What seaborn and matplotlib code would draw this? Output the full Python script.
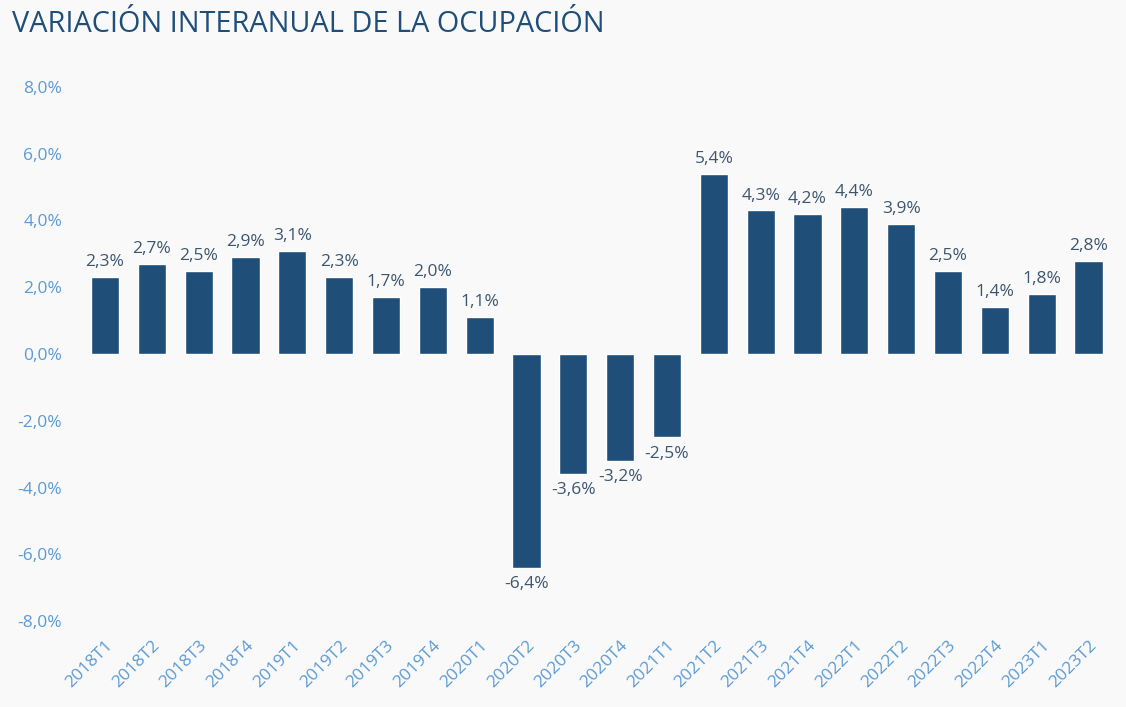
import pandas as pd
import seaborn as sns
import matplotlib.pyplot as plt

periods = ["2018T1", "2018T2", "2018T3", "2018T4", "2019T1", "2019T2", "2019T3", "2019T4",
           "2020T1", "2020T2", "2020T3", "2020T4", "2021T1", "2021T2", "2021T3", "2021T4",
           "2022T1", "2022T2", "2022T3", "2022T4", "2023T1", "2023T2"]
variation = [2.3, 2.7, 2.5, 2.9, 3.1, 2.3, 1.7, 2.0,
             1.1, -6.4, -3.6, -3.2, -2.5, 5.4, 4.3, 4.2,
             4.4, 3.9, 2.5, 1.4, 1.8, 2.8]
y_ticks = [-8, -6, -4, -2, 0, 2, 4, 6, 8]

bg = "#f9f9f9"
bar_color = "#1f4e79"
tick_color = "#5b9bd5"
label_color = "#3d5670"

sns.set_style("white")
plt.rcParams['font.family'] = ['Open Sans', 'DejaVu Sans']

df = pd.DataFrame({"periodo": periods, "var": variation})

fig = plt.figure(figsize=(11.26, 7.07), dpi=100, facecolor=bg)
ax = fig.add_axes([0.0725, 0.1216, 0.915, 0.7554])
ax.set_facecolor(bg)

sns.barplot(data=df, x="periodo", y="var", color=bar_color, saturation=1, width=0.6, ax=ax)

for i, v in enumerate(variation):
    txt = f"{v:.1f}%".replace(".", ",")
    if v >= 0:
        ax.annotate(txt, (i, v), xytext=(0, 5), textcoords="offset points",
                    ha="center", va="bottom", fontsize=12.5, color=label_color)
    else:
        ax.annotate(txt, (i, v), xytext=(0, -6), textcoords="offset points",
                    ha="center", va="top", fontsize=12.5, color=label_color)

ax.set_xlim(-0.5, len(periods) - 0.5)
ax.set_ylim(-8, 8)
ax.set_yticks(y_ticks)
ax.set_yticklabels([f"{t:.1f}%".replace(".", ",") for t in y_ticks])
ax.set_xlabel("")
ax.set_ylabel("")
ax.tick_params(axis="y", length=0, pad=14, labelsize=12.5, labelcolor=tick_color)
ax.tick_params(axis="x", length=0, pad=12, labelsize=12.5, labelcolor=tick_color)
plt.setp(ax.get_xticklabels(), rotation=45, ha="right", rotation_mode="anchor")
sns.despine(ax=ax, left=True, bottom=True)

fig.text(0.011, 0.965, "VARIACIÓN INTERANUAL DE LA OCUPACIÓN", fontsize=20.8,
         color=bar_color, ha="left", va="center")

fig.savefig("out.png", dpi=100, facecolor=bg)
